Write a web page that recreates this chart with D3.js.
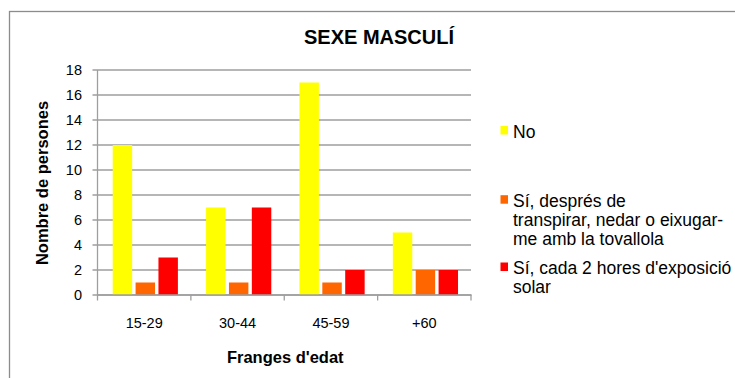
<!DOCTYPE html>
<html>
<head>
<meta charset="utf-8">
<script src="https://cdn.jsdelivr.net/npm/d3@7"></script>
<style>
  html, body { margin: 0; padding: 0; background: #fff; }
  svg { display: block; font-family: "Liberation Sans", Arial, sans-serif; }
</style>
</head>
<body>
<svg id="chart" width="735" height="378"></svg>
<script>
// Age bands and answers per band
const categories = ["15-29", "30-44", "45-59", "+60"];
const seriesNames = [
  "No",
  "Sí, després de transpirar, nedar o eixugar-me amb la tovallola",
  "Sí, cada 2 hores d'exposició solar"
];
const legendLines = [
  ["No"],
  ["Sí, després de", "transpirar, nedar o eixugar-", "me amb la tovallola"],
  ["Sí, cada 2 hores d'exposició", "solar"]
];
const valuesNo = [12, 7, 17, 5];
const valuesAfterSwim = [1, 1, 1, 2];
const valuesEvery2h = [3, 7, 2, 2];
const yTicks = [0, 2, 4, 6, 8, 10, 12, 14, 16, 18];
const colors = ["#FFFF00", "#FF6600", "#FF0000"];

const series = [valuesNo, valuesAfterSwim, valuesEvery2h];

const svg = d3.select("#chart");
const plot = { left: 97.5, right: 471, top: 70, bottom: 295 };
const gridColor = "#9E9E9E";

// outer frame
svg.append("rect")
  .attr("x", 9.5).attr("y", 11.5)
  .attr("width", 760).attr("height", 400)
  .attr("fill", "none").attr("stroke", "#8C8C8C").attr("stroke-width", 1.3);

// title
svg.append("text")
  .attr("x", 379).attr("y", 44)
  .attr("text-anchor", "middle")
  .attr("font-size", 20).attr("font-weight", "bold")
  .text("SEXE MASCULÍ");

const x0 = d3.scaleBand().domain(categories).range([plot.left, plot.right]);
const x1 = d3.scaleBand().domain(d3.range(series.length))
  .range([15.2, 80.4]).paddingInner(0.15);
const y = d3.scaleLinear().domain([0, 18]).range([plot.bottom, plot.top]);

// horizontal gridlines with small outer ticks
svg.append("g")
  .selectAll("line")
  .data(yTicks)
  .join("line")
  .attr("x1", plot.left - 5).attr("x2", plot.right)
  .attr("y1", d => y(d)).attr("y2", d => y(d))
  .attr("stroke", gridColor).attr("stroke-width", 1.3);

// y axis labels
const yAxis = svg.append("g")
  .attr("transform", `translate(${plot.left},0)`)
  .call(d3.axisLeft(y).tickValues(yTicks).tickSize(0).tickPadding(15.5));
yAxis.select(".domain").remove();
yAxis.selectAll("text")
  .attr("font-size", 14.5).attr("fill", "#000")
  .attr("font-family", "Liberation Sans, Arial, sans-serif");

// y axis line
svg.append("line")
  .attr("x1", plot.left).attr("x2", plot.left)
  .attr("y1", plot.top).attr("y2", plot.bottom)
  .attr("stroke", gridColor).attr("stroke-width", 1.3);

// bars
const groups = svg.append("g")
  .selectAll("g")
  .data(categories)
  .join("g")
  .attr("transform", d => `translate(${x0(d)},0)`);

groups.selectAll("rect")
  .data((c, i) => series.map((s, k) => ({ k, v: s[i] })))
  .join("rect")
  .attr("x", d => x1(d.k))
  .attr("width", x1.bandwidth())
  .attr("y", d => y(d.v))
  .attr("height", d => y(0) - y(d.v))
  .attr("fill", d => colors[d.k]);

// x axis line and tick marks at band boundaries
svg.append("line")
  .attr("x1", plot.left).attr("x2", plot.right + 0.7)
  .attr("y1", plot.bottom).attr("y2", plot.bottom)
  .attr("stroke", gridColor).attr("stroke-width", 1.3);

const boundaries = categories.map(c => x0(c)).concat([plot.right]);
svg.append("g")
  .selectAll("line")
  .data(boundaries)
  .join("line")
  .attr("x1", d => d).attr("x2", d => d)
  .attr("y1", plot.bottom).attr("y2", plot.bottom + 5.5)
  .attr("stroke", gridColor).attr("stroke-width", 1.3);

// category labels
svg.append("g")
  .selectAll("text")
  .data(categories)
  .join("text")
  .attr("x", d => x0(d) + x0.bandwidth() / 2)
  .attr("y", 328)
  .attr("text-anchor", "middle")
  .attr("font-size", 14.5)
  .text(d => d);

// axis titles
svg.append("text")
  .attr("x", (plot.left + plot.right) / 2 + 1)
  .attr("y", 363)
  .attr("text-anchor", "middle")
  .attr("font-size", 16.5).attr("font-weight", "bold")
  .text("Franges d'edat");

svg.append("text")
  .attr("transform", "translate(48,183) rotate(-90)")
  .attr("text-anchor", "middle")
  .attr("font-size", 16.5).attr("font-weight", "bold")
  .text("Nombre de persones");

// legend
const legendTop = [137.5, 206.7, 274];
const lineGap = 19.3;
const legend = svg.append("g");
seriesNames.forEach((name, k) => {
  const g = legend.append("g").attr("transform", `translate(0,${legendTop[k]})`);
  g.append("rect")
    .attr("x", 500.5).attr("y", -11.5)
    .attr("width", 7.5).attr("height", 8.5)
    .attr("fill", colors[k]);
  const t = g.append("text").attr("x", 513).attr("y", 0).attr("font-size", 17.5);
  legendLines[k].forEach((line, j) => {
    t.append("tspan").attr("x", 513).attr("y", j * lineGap).text(line);
  });
});
</script>
</body>
</html>
